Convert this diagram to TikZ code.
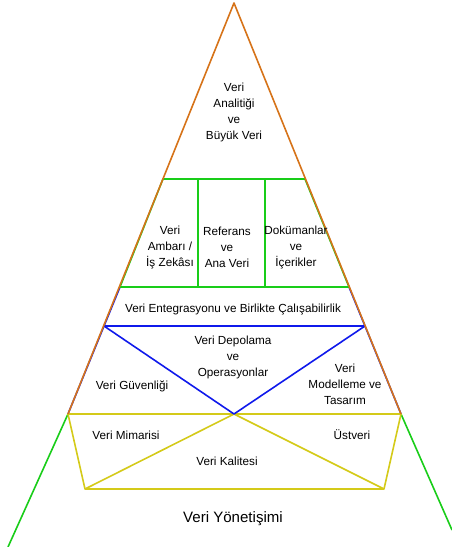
\documentclass[tikz,border=0pt]{standalone}
\usepackage{fontspec}
\setmainfont{Liberation Sans}
\usetikzlibrary{positioning}
\definecolor{PirOrange}{RGB}{214,115,25}
\definecolor{PirGreen}{RGB}{25,205,25}
\definecolor{PirBlue}{RGB}{15,25,235}
\definecolor{PirYellow}{RGB}{212,202,25}

\begin{document}
\begin{tikzpicture}[x=0.75pt, y=-0.75pt,
    etiket/.style={align=center, font=\fontsize{8.8}{12}\selectfont, inner sep=0pt},
    kenar/.style={line width=1.2pt, line join=round}]
    \useasboundingbox (0,0) rectangle (452,547);
    % Noktalar
    \coordinate (tepe) at (234,3);
    \coordinate (solD) at (68,414);   \coordinate (sagD) at (401,414);
    \coordinate (solY) at (8,547);    \coordinate (sagY) at (452,530);
    \coordinate (gA) at (163,179);    \coordinate (gB) at (305,179);
    \coordinate (gC) at (349,287);    \coordinate (gD) at (120,287);
    \coordinate (gE) at (198,179);    \coordinate (gF) at (198,287);
    \coordinate (gG) at (265,179);    \coordinate (gH) at (265,287);
    \coordinate (bA) at (104,326);    \coordinate (bB) at (365,326);
    \coordinate (orta) at (234,414);
    \coordinate (yA) at (85,489);     \coordinate (yB) at (384,489);

    % Katmanlar
    \draw[kenar, PirGreen] (solY) -- (solD);
    \draw[kenar, PirGreen] (sagY) -- (sagD);
    \draw[kenar, PirBlue] (solD) -- (gD) -- (gC) -- (sagD);
    \draw[kenar, PirBlue] (bA) -- (bB);
    \draw[kenar, PirYellow] (solD) -- (sagD) -- (yB) -- (yA) -- cycle;
    \draw[kenar, PirYellow] (yA) -- (orta) -- (yB);
    \draw[kenar, PirBlue] (bA) -- (orta) -- (bB);
    \draw[kenar, PirGreen] (gA) -- (gB) -- (gC) -- (gD) -- cycle;
    \draw[kenar, PirGreen] (gE) -- (gF);
    \draw[kenar, PirGreen] (gG) -- (gH);
    \draw[kenar, PirOrange] (solD) -- (tepe) -- (sagD);

    % Etiketler
    \node[etiket] (analitik) at (234,112) {Veri\\Analitiği\\ve\\Büyük Veri};
    \node[etiket] (ambar) at (170,247) {Veri\\Ambarı /\\İş Zekâsı};
    \node[etiket] (referans) at (227,247) {Referans\\ve\\Ana Veri};
    \node[etiket] (dokuman) at (296,247) {Dokümanlar\\ve\\İçerikler};
    \node[etiket] (entegrasyon) at (233,309) {Veri Entegrasyonu ve Birlikte Çalışabilirlik};
    \node[etiket] (depolama) at (233,357) {Veri Depolama\\ve\\Operasyonlar};
    \node[etiket] (guvenlik) at (132,386) {Veri Güvenliği};
    \node[etiket] (modelleme) at (345,384) {Veri\\Modelleme ve\\Tasarım};
    \node[etiket] (mimari) at (126,435) {Veri Mimarisi};
    \node[etiket] (ustveri) at (352,435) {Üstveri};
    \node[etiket] (kalite) at (227,461) {Veri Kalitesi};
    \node[etiket, font=\fontsize{11.3}{14}\selectfont] (yonetisim) at (233,519) {Veri Yönetişimi};
\end{tikzpicture}
\end{document}
